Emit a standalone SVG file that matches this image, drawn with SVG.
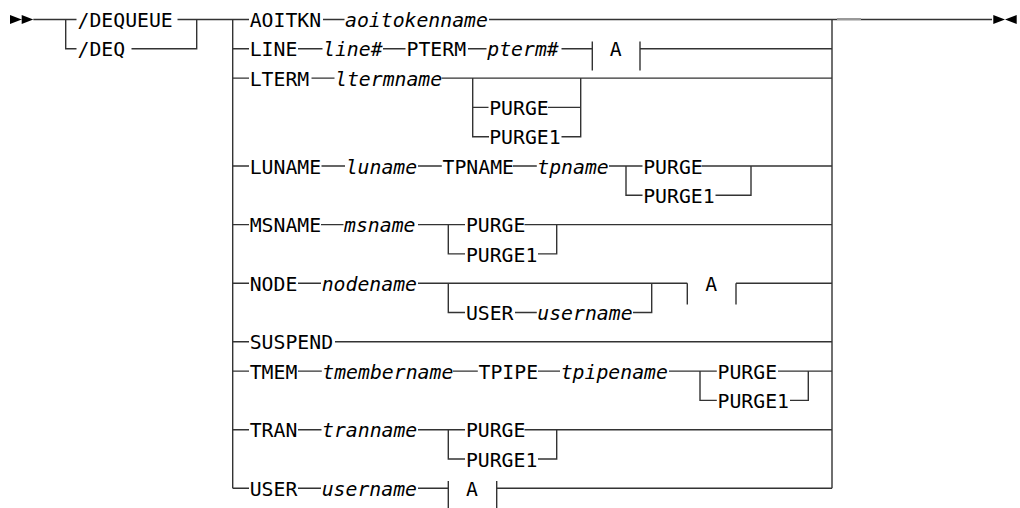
<svg xmlns="http://www.w3.org/2000/svg" width="1020" height="508" viewBox="0 0 1020 508">
<style>
text{font-family:"DejaVu Sans Mono","Liberation Mono",monospace;font-size:19.8px;fill:#000}
.v{font-style:italic}
#connectors line,#connectors path{stroke:#333;stroke-width:1.4;fill:none}
.bar{stroke:#333;stroke-width:1.4}
.tri{fill:#000}
</style>
<rect width="1020" height="508" fill="#fff"/>
<g id="connectors">
<path d="M33.3,19.5H76.5M65.7,19.5V48.8H76.5M177.5,19.5H249M131.5,48.8H196.7V19.5"/>
<path d="M232.7,19.5V488.3M832,19.5V488.3"/>
<path d="M323,19.5H344.5M489,19.5H992"/>
<line x1="837" y1="19" x2="861" y2="19" style="stroke:#999;stroke-width:2"/>
<path d="M232.7,48.8H249M298,48.8H322.5M383,48.8H405.5M468,48.8H486.5M561.5,48.8H592.3M640,48.8H832"/>
<path d="M232.7,78.1H249M311.5,78.1H334.5M441.5,78.1H832M472.7,78.1V136.7H489M472.7,107.4H488.5M548,107.4H580.7M580.7,78.1V136.7H561.5"/>
<path d="M232.7,166H249M321.5,166H345M418,166H441.8M513,166H536.8M609,166H642.5M701.5,166H832M626,166V195.3H642.5M751,166V195.3H715.5"/>
<path d="M232.7,224.6H249M321,224.6H343.5M418,224.6H465M524.5,224.6H832M448.3,224.6V253.9H465M556.7,224.6V253.9H538"/>
<path d="M232.7,283.2H249M298,283.2H321M418,283.2H687.3M736,283.2H832M448.3,283.2V312.5H465M515,312.5H536.8M633,312.5H651.7V283.2"/>
<path d="M232.7,341.8H249M335,341.8H832"/>
<path d="M232.7,371.1H249M298,371.1H321.8M453,371.1H477.8M538,371.1H560M669,371.1H716.8M778,371.1H832M700,371.1V400.4H716.8M808.3,371.1V400.4H790"/>
<path d="M232.7,429.7H249M298,429.7H321.5M418,429.7H465M524.5,429.7H832M448.3,429.7V459H465M556.7,429.7V459H538"/>
<path d="M232.7,488.3H249M298,488.3H321M418,488.3H448.3M496.7,488.3H832"/>
</g>
<g id="start"><path class="tri" d="M10,15L21.7,19.5L10,24ZM21.7,15L33.3,19.5L21.7,24Z"/></g>
<g id="end"><path class="tri" d="M993.3,15L1005,19.5L993.3,24ZM1016.7,15L1005,19.5L1016.7,24Z"/></g>
<g id="n-dequeue"><text x="77.5" y="27">/DEQUEUE</text></g>
<g id="n-deq"><text x="77.5" y="56.4">/DEQ</text></g>
<g id="n-aoitkn"><text x="249.7" y="27">AOITKN</text><text class="v" x="345" y="27">aoitokenname</text></g>
<g id="n-line"><text x="249.7" y="56.4">LINE</text><text class="v" x="323" y="56.4">line#</text><text x="406.5" y="56.4">PTERM</text><text class="v" x="487.3" y="56.4">pterm#</text></g>
<g id="n-ref-a1"><line class="bar" x1="592.3" y1="41.5" x2="592.3" y2="70.5"/><text x="609.8" y="56.4">A</text><line class="bar" x1="640" y1="41.5" x2="640" y2="70.5"/></g>
<g id="n-lterm"><text x="249.7" y="85.7">LTERM</text><text class="v" x="335" y="85.7">ltermname</text><text x="489.2" y="115">PURGE</text><text x="489.2" y="144.3">PURGE1</text></g>
<g id="n-luname"><text x="249.7" y="173.6">LUNAME</text><text class="v" x="345.7" y="173.6">luname</text><text x="442.5" y="173.6">TPNAME</text><text class="v" x="537.3" y="173.6">tpname</text><text x="643.2" y="173.6">PURGE</text><text x="643.2" y="202.9">PURGE1</text></g>
<g id="n-msname"><text x="249.7" y="232.2">MSNAME</text><text class="v" x="344" y="232.2">msname</text><text x="465.9" y="232.2">PURGE</text><text x="465.9" y="261.5">PURGE1</text></g>
<g id="n-node"><text x="249.7" y="290.8">NODE</text><text class="v" x="321.7" y="290.8">nodename</text><text x="465.9" y="320.1">USER</text><text class="v" x="537.3" y="320.1">username</text></g>
<g id="n-ref-a2"><line class="bar" x1="687.3" y1="283.2" x2="687.3" y2="304.5"/><text x="705.2" y="290.8">A</text><line class="bar" x1="736" y1="283.2" x2="736" y2="304.5"/></g>
<g id="n-suspend"><text x="249.7" y="349.4">SUSPEND</text></g>
<g id="n-tmem"><text x="249.7" y="378.7">TMEM</text><text class="v" x="322.3" y="378.7">tmembername</text><text x="478.5" y="378.7">TPIPE</text><text class="v" x="560.7" y="378.7">tpipename</text><text x="717.5" y="378.7">PURGE</text><text x="717.5" y="408">PURGE1</text></g>
<g id="n-tran"><text x="249.7" y="437.3">TRAN</text><text class="v" x="322" y="437.3">tranname</text><text x="465.9" y="437.3">PURGE</text><text x="465.9" y="466.6">PURGE1</text></g>
<g id="n-user"><text x="249.7" y="495.9">USER</text><text class="v" x="321.7" y="495.9">username</text></g>
<g id="n-ref-a3"><line class="bar" x1="448.3" y1="481" x2="448.3" y2="510"/><text x="465.9" y="495.9">A</text><line class="bar" x1="496.7" y1="481" x2="496.7" y2="510"/></g>
</svg>
